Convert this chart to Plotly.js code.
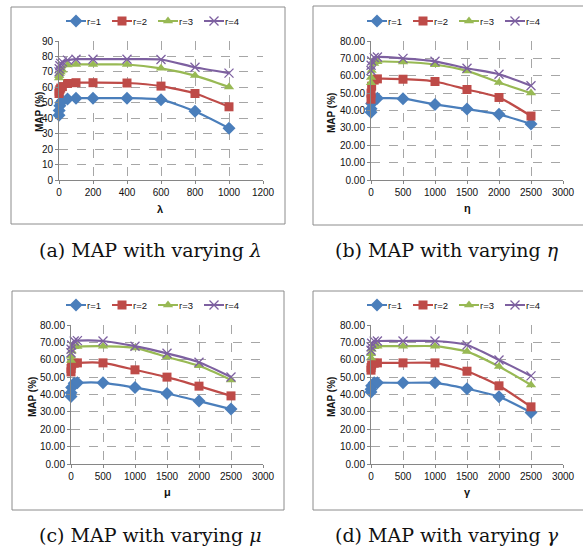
<!DOCTYPE html>
<html><head><meta charset="utf-8">
<script src="https://cdn.plot.ly/plotly-3.0.1.min.js"></script>
<style>
html,body{margin:0;padding:0;background:#fff;overflow:hidden}
#g{width:583px;height:548px}
/* compact legend entries: short line sample with the marker in its middle, text right after it */
#g .legendlines path{d:path("M0,0 h20")}
#g .legendpoints path{transform:translate(10px,0px)}
#g text.legendtext,#g text.legend2text,#g text.legend3text,#g text.legend4text{transform:translate(-19px,0px)}
</style>
</head><body><div id="g"></div>
<script>
const seriesNames = ['r=1','r=2','r=3','r=4'];
const seriesColors = ['#4A7EBB','#BE4B48','#98B954','#7D60A0'];
const seriesSymbols = ['diamond','square','triangle-up','x-thin-open'];

const lambdaX = [0, 1, 5, 10, 20, 50, 100, 200, 400, 600, 800, 1000];
const lambdaR1 = [42, 45, 48, 50, 51.5, 52.5, 53, 53, 53, 52, 44.5, 33.5];
const lambdaR2 = [56, 57.5, 58.5, 59.5, 60.5, 62.5, 63, 63, 62.8, 60.8, 56, 47.4];
const lambdaR3 = [66, 67.5, 69, 70, 71, 74.4, 74.8, 74.8, 74.8, 72.3, 67.6, 60.2];
const lambdaR4 = [70, 72, 74, 75.5, 76.5, 77.6, 78.2, 78.2, 78.2, 78, 73, 69.2];

const etaX = [0, 1, 10, 50, 100, 500, 1000, 1500, 2000, 2500];
const etaR1 = [39, 41, 44, 46.5, 47, 46.8, 43.5, 40.8, 37.8, 32.3];
const etaR2 = [46.5, 50, 54, 57.5, 58.2, 58, 56.7, 52.1, 47.5, 36.8];
const etaR3 = [56, 59, 63, 67, 68, 67.9, 66.4, 62.8, 56.1, 50];
const etaR4 = [63, 66, 68.5, 70.5, 70.8, 70, 68.3, 64.3, 60.9, 54.2];

const muX = [0, 1, 10, 50, 100, 500, 1000, 1500, 2000, 2500];
const muR1 = [38.9, 41, 44, 46.5, 46.7, 46.7, 44, 40.6, 36.2, 31.6];
const muR2 = [53, 55, 57, 58, 58.2, 58.2, 54.2, 50, 44.8, 39.2];
const muR3 = [59.5, 62, 65, 67.5, 67.6, 67.8, 66.8, 61.6, 56.5, 48.4];
const muR4 = [64, 66, 68.5, 70.8, 71, 70.8, 67.8, 63.7, 58.6, 50.1];

const gammaX = [0, 1, 10, 50, 100, 500, 1000, 1500, 2000, 2500];
const gammaR1 = [41.5, 43, 45, 46.7, 46.8, 46.7, 46.7, 43.3, 38.7, 29.7];
const gammaR2 = [54, 55.5, 57, 58, 58.2, 58.2, 58.2, 53.4, 45, 32.9];
const gammaR3 = [61, 63.5, 66, 67.5, 67.8, 67.8, 67.8, 64.7, 56.1, 45.5];
const gammaR4 = [65.5, 67.5, 69.5, 70.7, 70.8, 70.8, 70.8, 68.5, 59.9, 50.7];

const panelX = [lambdaX, etaX, muX, gammaX];
const panelY = [
  [lambdaR1, lambdaR2, lambdaR3, lambdaR4],
  [etaR1, etaR2, etaR3, etaR4],
  [muR1, muR2, muR3, muR4],
  [gammaR1, gammaR2, gammaR3, gammaR4]
];
const panelXTitles = ['λ', 'η', 'μ', 'γ'];
const yTitle = 'MAP (%)';
const panelCaptions = ['(a) MAP with varying <i>λ</i>', '(b) MAP with varying <i>η</i>', '(c) MAP with varying <i>μ</i>', '(d) MAP with varying <i>γ</i>'];

const W = 583, H = 548;
const fx = p => p / W, fy = p => 1 - p / H;
// plot areas in px: [x0, x1, yTop, yBottom]
const areas = [[59, 263, 41, 180], [371, 563, 41, 180], [71, 263, 325, 464], [371, 563, 325, 464]];
const boxes = [[11, 285, 7, 224], [313, 584, 6, 225], [12, 284, 291, 510], [313, 584, 291, 510]];
const boxRightEdge = [true, false, true, false];
const legendPos = [[66, 21], [367, 21], [66, 305], [367, 305]];
const captionPos = [[150, 250], [447, 250], [150, 535], [447, 535]];
const yTitlePos = [[40, 112], [331, 113], [32, 397], [331, 397]];
const xTitlePos = [[160, 209], [467, 208], [167, 492], [467, 492]];

const traces = [];
const layout = {
  width: W, height: H, autosize: false,
  margin: {l: 0, r: 0, t: 0, b: 0, autoexpand: false},
  paper_bgcolor: '#fff', plot_bgcolor: '#fff', showlegend: true,
  font: {family: 'Liberation Sans, Arial, sans-serif', size: 10, color: '#111'},
  shapes: [], annotations: []
};

for (let p = 0; p < 4; p++) {
  const n = p === 0 ? '' : String(p + 1);
  const legName = 'legend' + n;
  for (let s = 0; s < 4; s++) {
    const isX = s === 3;
    traces.push({
      type: 'scatter', mode: 'lines+markers',
      x: panelX[p], y: panelY[p][s], name: seriesNames[s],
      xaxis: 'x' + n, yaxis: 'y' + n, legend: legName,
      line: {color: seriesColors[s], width: 2.2, shape: 'spline', smoothing: 0.6},
      marker: {symbol: seriesSymbols[s], size: s === 0 ? 10 : 9, color: seriesColors[s],
        line: {color: seriesColors[s], width: isX ? 1.3 : 0}},
      cliponaxis: false
    });
  }
  const a = areas[p];
  const isLambda = p === 0;
  layout['xaxis' + n] = {
    domain: [fx(a[0]), fx(a[1])], anchor: 'y' + n,
    range: isLambda ? [0, 1200] : [0, 3000], dtick: isLambda ? 200 : 500, tick0: 0,
    showgrid: true, gridcolor: '#A6A6A6', griddash: 'dash', gridwidth: 1,
    showline: true, linecolor: '#868686', linewidth: 1, zeroline: false,
    ticks: 'outside', ticklen: 3, tickcolor: '#868686',
    tickfont: {size: 10, color: '#111'}, automargin: false,
    fixedrange: true
  };
  layout['yaxis' + n] = {
    domain: [fy(a[3]), fy(a[2])], anchor: 'x' + n,
    range: isLambda ? [0, 90] : [0, 80], dtick: 10, tick0: 0,
    tickformat: isLambda ? 'd' : '.2f',
    showgrid: true, gridcolor: '#A6A6A6', griddash: 'dash', gridwidth: 1,
    showline: true, linecolor: '#868686', linewidth: 1, zeroline: false,
    ticks: 'outside', ticklen: 3, tickcolor: '#868686',
    tickfont: {size: 10, color: '#111'}, automargin: false,
    fixedrange: true
  };
  layout[legName] = {
    orientation: 'h', x: fx(legendPos[p][0]), y: fy(legendPos[p][1]),
    xanchor: 'left', yanchor: 'middle', bgcolor: 'rgba(0,0,0,0)', borderwidth: 0,
    font: {size: 9.5, color: '#111'}, itemwidth: 30, tracegroupgap: 0,
    entrywidth: 1, entrywidthmode: 'pixels'
  };
  const b = boxes[p];
  const bx0 = fx(b[0]), bx1 = fx(b[1]), by0 = fy(b[3]), by1 = fy(b[2]);
  if (boxRightEdge[p]) {
    layout.shapes.push({type: 'rect', xref: 'paper', yref: 'paper', x0: bx0, x1: bx1, y0: by0, y1: by1,
      line: {color: '#8C8C8C', width: 1}, fillcolor: 'rgba(0,0,0,0)', layer: 'below'});
  } else {
    layout.shapes.push({type: 'path', xref: 'paper', yref: 'paper',
      path: 'M' + bx1 + ',' + by1 + ' L' + bx0 + ',' + by1 + ' L' + bx0 + ',' + by0 + ' L' + bx1 + ',' + by0,
      line: {color: '#8C8C8C', width: 1}, layer: 'below'});
  }
  layout.annotations.push({xref: 'paper', yref: 'paper', x: fx(captionPos[p][0]), y: fy(captionPos[p][1]),
    xanchor: 'center', yanchor: 'middle', showarrow: false, text: panelCaptions[p],
    font: {family: 'DejaVu Serif, Liberation Serif, serif', size: 19, color: '#111'}});
  layout.annotations.push({xref: 'paper', yref: 'paper', x: fx(yTitlePos[p][0]), y: fy(yTitlePos[p][1]),
    xanchor: 'center', yanchor: 'middle', showarrow: false, textangle: -90, text: '<b>' + yTitle + '</b>',
    font: {size: 10, color: '#111'}});
  layout.annotations.push({xref: 'paper', yref: 'paper', x: fx(xTitlePos[p][0]), y: fy(xTitlePos[p][1]),
    xanchor: 'center', yanchor: 'middle', showarrow: false, text: '<b>' + panelXTitles[p] + '</b>',
    font: {size: 11, color: '#111'}});
}

Plotly.newPlot('g', traces, layout, {displayModeBar: false, staticPlot: true});
</script></body></html>
